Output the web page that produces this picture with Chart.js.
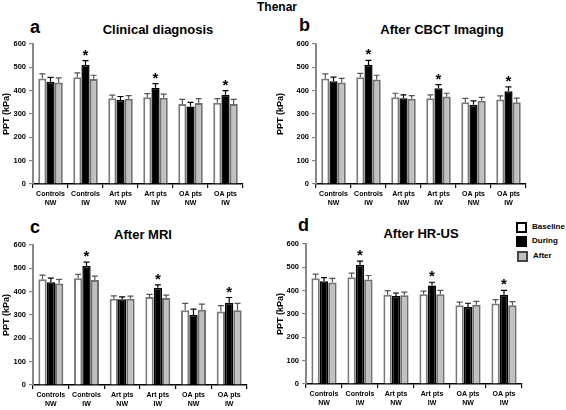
<!DOCTYPE html>
<html>
<head>
<meta charset="utf-8">
<script src="https://cdn.jsdelivr.net/npm/chart.js@4.4.1/dist/chart.umd.min.js"></script>
<style>
  body { margin: 0; background: #fff; }
  #wrap { position: relative; width: 566px; height: 410px; overflow: hidden; font-family: "Liberation Sans", Arial, sans-serif; font-weight: bold; color: #000; }
  canvas { position: absolute; }
  .txt { position: absolute; white-space: nowrap; line-height: 1; }
  .letter { font-size: 18px; }
  .ptitle { font-size: 13px; transform: translateX(-50%); }
  .leg { position: absolute; font-size: 8px; line-height: 1; white-space: nowrap; }
  .box { position: absolute; width: 7px; height: 7px; border: 2px solid #000; }
</style>
</head>
<body>
<div id="wrap">
  <div class="txt" style="left:277px;top:1px;font-size:12px;transform:translateX(-50%)">Thenar</div>

  <div class="txt letter" style="left:30px;top:18px">a</div>
  <div class="txt ptitle" style="left:158px;top:23px">Clinical diagnosis</div>
  <div class="txt letter" style="left:299px;top:16px">b</div>
  <div class="txt ptitle" style="left:442px;top:23px">After CBCT Imaging</div>
  <div class="txt letter" style="left:30px;top:218px">c</div>
  <div class="txt ptitle" style="left:143px;top:228px">After MRI</div>
  <div class="txt letter" style="left:298px;top:216px">d</div>
  <div class="txt ptitle" style="left:421px;top:227px">After HR-US</div>

  <div class="box" style="left:516px;top:222px;background:#fff"></div>
  <div class="leg" style="left:532px;top:223px">Baseline</div>
  <div class="box" style="left:516px;top:236px;background:#000"></div>
  <div class="leg" style="left:532px;top:237px">During</div>
  <div class="box" style="left:517px;top:251px;background:#c0c0c0;border-color:#444"></div>
  <div class="leg" style="left:533px;top:252px">After</div>

  <canvas id="ca" width="283" height="210" style="left:0;top:0"></canvas>
  <canvas id="cb" width="292" height="210" style="left:274px;top:0"></canvas>
  <canvas id="cc" width="283" height="205" style="left:0;top:205px"></canvas>
  <canvas id="cd" width="292" height="205" style="left:274px;top:205px"></canvas>
</div>
<script>
var categories = [["Controls", "NW"], ["Controls", "IW"], ["Art pts", "NW"], ["Art pts", "IW"], ["OA pts", "NW"], ["OA pts", "IW"]];
var yTicks = [0, 100, 200, 300, 400, 500, 600];
var starGroups = [1, 3, 5];

// a - Clinical diagnosis
var aBaseline = [452, 457, 368, 372, 343, 348];
var aDuring   = [438, 510, 360, 412, 332, 382];
var aAfter    = [435, 450, 365, 370, 347, 343];
var aBaselineErr = [20, 19, 13, 15, 20, 18];
var aDuringErr   = [19, 19, 15, 18, 18, 18];
var aAfterErr    = [20, 16, 14, 15, 19, 20];

// b - After CBCT Imaging
var bBaseline = [452, 457, 372, 368, 350, 362];
var bDuring   = [440, 510, 368, 410, 340, 398];
var bAfter    = [435, 448, 365, 375, 357, 350];
var bBaselineErr = [20, 17, 17, 14, 17, 16];
var bDuringErr   = [18, 20, 14, 16, 16, 18];
var bAfterErr    = [18, 18, 14, 14, 14, 18];

// c - After MRI
var cBaseline = [453, 458, 370, 377, 320, 315];
var cDuring   = [440, 510, 367, 417, 300, 353];
var cAfter    = [435, 450, 370, 373, 322, 320];
var cBaselineErr = [18, 16, 12, 11, 30, 25];
var cDuringErr   = [18, 17, 11, 12, 25, 22];
var cAfterErr    = [18, 17, 11, 12, 25, 30];

// d - After HR-US
var dBaseline = [453, 458, 383, 385, 337, 345];
var dDuring   = [440, 510, 377, 422, 330, 383];
var dAfter    = [435, 448, 380, 385, 340, 337];
var dBaselineErr = [18, 17, 17, 13, 14, 17];
var dDuringErr   = [16, 17, 13, 14, 16, 18];
var dAfterErr    = [18, 17, 14, 16, 14, 16];

var FONT = "'Liberation Sans', Arial, sans-serif";

// draws the upward error bars and the asterisks over the IW "During" bars
var errorBars = {
  id: "errorBars",
  afterDatasetsDraw: function(chart) {
    var ctx = chart.ctx, y = chart.scales.y;
    ctx.save();
    chart.data.datasets.forEach(function(ds, i) {
      chart.getDatasetMeta(i).data.forEach(function(bar, j) {
        var top = y.getPixelForValue(ds.data[j] + ds.errors[j]);
        ctx.strokeStyle = ds.errColor;
        ctx.lineWidth = 1.2;
        ctx.beginPath();
        ctx.moveTo(bar.x, bar.y);
        ctx.lineTo(bar.x, top);
        ctx.moveTo(bar.x - 3, top);
        ctx.lineTo(bar.x + 3, top);
        ctx.stroke();
        if (i === 1 && starGroups.indexOf(j) >= 0) {
          ctx.fillStyle = "#000";
          ctx.font = "bold 15px " + FONT;
          ctx.textAlign = "center";
          ctx.textBaseline = "alphabetic";
          ctx.fillText("*", bar.x, top - 1);
        }
      });
    });
    ctx.restore();
  }
};

function makePanel(id, base, dur, aft, baseErr, durErr, aftErr, pad, yw, xh) {
  return new Chart(document.getElementById(id), {
    type: "bar",
    data: {
      labels: categories,
      datasets: [
        { label: "Baseline", data: base, errors: baseErr, backgroundColor: "#fff", borderColor: "#7a7a7a", errColor: "#555", borderWidth: 2 },
        { label: "During", data: dur, errors: durErr, backgroundColor: "#000", borderColor: "#000", errColor: "#000", borderWidth: 1.5 },
        { label: "After", data: aft, errors: aftErr, backgroundColor: "#c0c0c0", borderColor: "#707070", errColor: "#555", borderWidth: 2 }
      ]
    },
    options: {
      responsive: false,
      animation: false,
      layout: { padding: pad },
      datasets: { bar: { categoryPercentage: 0.7, barPercentage: 1 } },
      plugins: { legend: { display: false }, tooltip: { enabled: false } },
      scales: {
        x: {
          grid: { drawOnChartArea: false, offset: true, tickLength: 4, color: "#000", lineWidth: 1.2 },
          border: { color: "#000", width: 1.5 },
          ticks: { font: { family: FONT, size: 7, weight: "bold", lineHeight: 1.25 }, color: "#000", padding: 2, maxRotation: 0, autoSkip: false },
          afterFit: function(s) { s.height = xh; }
        },
        y: {
          min: 0, max: 600,
          afterBuildTicks: function(s) { s.ticks = yTicks.map(function(v) { return { value: v }; }); },
          grid: { drawOnChartArea: false, tickLength: 4, color: "#888", lineWidth: 1.2 },
          border: { color: "#888", width: 2 },
          ticks: { font: { family: FONT, size: 7.5, weight: "bold" }, color: "#000", padding: 3 },
          title: { display: true, text: "PPT (kPa)", color: "#000", font: { family: FONT, size: 9, weight: "bold" }, padding: 1 },
          afterFit: function(s) { s.width = yw; }
        }
      }
    },
    plugins: [errorBars]
  });
}

makePanel("ca", aBaseline, aDuring, aAfter, aBaselineErr, aDuringErr, aAfterErr, { top: 44, right: 40, left: 0, bottom: 0 }, 33, 26);
makePanel("cb", bBaseline, bDuring, bAfter, bBaselineErr, bDuringErr, bAfterErr, { top: 44, right: 40, left: 0, bottom: 0 }, 42, 26);
makePanel("cc", cBaseline, cDuring, cAfter, cBaselineErr, cDuringErr, cAfterErr, { top: 40, right: 36, left: 0, bottom: 0 }, 33, 25);
makePanel("cd", dBaseline, dDuring, dAfter, dBaselineErr, dDuringErr, dAfterErr, { top: 39, right: 44, left: 0, bottom: 0 }, 32, 26);
</script>
</body>
</html>
